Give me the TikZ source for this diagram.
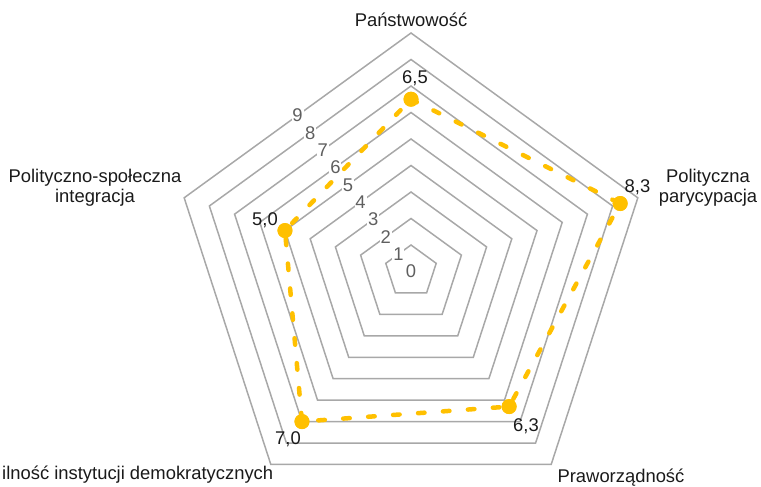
\documentclass[tikz,border=0pt]{standalone}
\usepackage{fontspec}
\setmainfont{Liberation Sans}
\definecolor{gridgray}{HTML}{A8A8A8}
\definecolor{lblgray}{HTML}{5F5F5F}
\definecolor{txt}{HTML}{1A1A1A}
\definecolor{amber}{HTML}{FFC000}
\newcommand\chartfont{\fontsize{18.4}{20.5}\selectfont}
\begin{document}
\begin{tikzpicture}[x=1pt,y=1pt,
  grid/.style={draw=gridgray, line width=1.5pt, line join=miter},
  lvl/.style={text=lblgray, fill=white, inner sep=0.8pt, font=\chartfont},
  axislbl/.style={text=txt, font=\chartfont, inner sep=0pt, align=center},
  vallbl/.style={text=txt, font=\chartfont, inner sep=0pt, anchor=base},
  dataline/.style={draw=amber, line width=4.5pt, line cap=round, line join=round, dash pattern=on 6.5pt off 18.5pt},
  dot/.style={circle, fill=amber, draw=none, minimum size=15pt, inner sep=0pt}]
\useasboundingbox (0,0) rectangle (761,487);
\begin{scope}[shift={(411,215.5)}]
  % grid pentagons
  \foreach \k in {1,...,9}{
    \draw[grid] (90:\k*26.5) -- (18:\k*26.5) -- (-54:\k*26.5) -- (234:\k*26.5) -- (162:\k*26.5) -- cycle;
  }
  % level labels
  \foreach \k in {0,...,9}{
    \node[lvl] (l\k) at (126:\k*21.44) {\k};
  }
  % data points
  \node[dot] (p1) at (90:6.5*26.5) {};
  \node[dot] (p2) at (18:8.3*26.5) {};
  \node[dot] (p3) at (-54:6.3*26.5) {};
  \node[dot] (p4) at (234:7.0*26.5) {};
  \node[dot] (p5) at (162:5.0*26.5) {};
\end{scope}
\draw[dataline] (p1.center) -- (p2.center) -- (p3.center) -- (p4.center) -- (p5.center) -- cycle;
\foreach \p in {p1,p2,p3,p4,p5}{ \fill[amber] (\p.center) circle (7.5pt); }
% value labels
\node[vallbl] (v1) at (415,403.7) {6,5};
\node[vallbl] (v2) at (637.5,294) {8,3};
\node[vallbl] (v3) at (526,55) {6,3};
\node[vallbl] (v4) at (288,42) {7,0};
\node[vallbl] (v5) at (265,261) {5,0};
% axis labels
\node[axislbl, anchor=base] (a1) at (411,460.3) {Państwowość};
\node[axislbl, anchor=base] (a2) at (708,284) {Polityczna\\parycypacja};
\node[axislbl, anchor=base] (a3) at (621,4) {Praworządność};
\node[axislbl, anchor=base west] (a4) at (2,7) {ilność instytucji demokratycznych};
\node[axislbl, anchor=base] (a5) at (95,284) {Polityczno-społeczna\\integracja};
\end{tikzpicture}
\end{document}
